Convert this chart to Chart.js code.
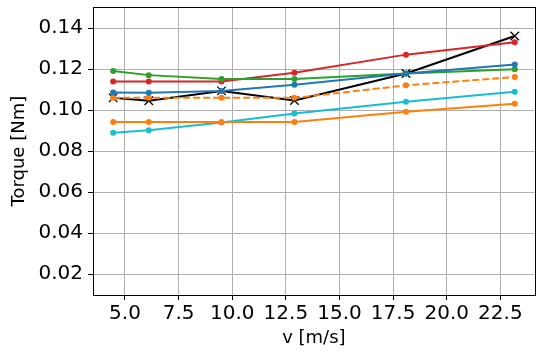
<!DOCTYPE html>
<html>
<head>
<meta charset="utf-8">
<script src="https://cdn.jsdelivr.net/npm/chart.js@4/dist/chart.umd.min.js"></script>
<style>
html,body{margin:0;padding:0;background:#fff;}
#wrap{width:542px;height:354px;}
</style>
</head>
<body>
<div id="wrap"><canvas id="c" width="542" height="354"></canvas></div>
<script>
const speeds = [4.45, 6.11, 9.5, 12.9, 18.1, 23.17];
const blueSeries   = [0.1086, 0.1085, 0.1094, 0.1124, 0.1179, 0.1223];
const orangeSeries = [0.0942, 0.0942, 0.0942, 0.0942, 0.0992, 0.1031];
const orangeDashed = [0.1060, 0.1060, 0.1060, 0.1060, 0.1121, 0.1162];
const greenSeries  = [0.1191, 0.1171, 0.1152, 0.1152, 0.1179, 0.1200];
const redSeries    = [0.1140, 0.1140, 0.1140, 0.1183, 0.1271, 0.1331];
const cyanSeries   = [0.0890, 0.0902, 0.0940, 0.0984, 0.1041, 0.1090];
const blackSeries  = [0.1060, 0.1046, 0.1094, 0.1047, 0.1179, 0.1362];
const xTicks = [5.0, 7.5, 10.0, 12.5, 15.0, 17.5, 20.0, 22.5];
const yTicks = [0.02, 0.04, 0.06, 0.08, 0.10, 0.12, 0.14];
const xLabel = 'v [m/s]';
const yLabel = 'Torque [Nm]';

function pts(ys){ return speeds.map((x,i)=>({x:x, y:ys[i]})); }
function ds(ys, color, extra){
  return Object.assign({
    data: pts(ys), borderColor: color, backgroundColor: color,
    showLine: true, borderWidth: 2, pointRadius: 3, pointHoverRadius: 3,
    pointBorderWidth: 0, pointStyle: 'circle', tension: 0
  }, extra||{});
}

const frame = {
  id: 'frame',
  afterDraw(chart){
    const a = chart.chartArea, ctx = chart.ctx;
    ctx.save();
    ctx.strokeStyle = '#000'; ctx.lineWidth = 1;
    ctx.strokeRect(Math.round(a.left)+0.5, Math.round(a.top)+0.5, Math.round(a.right-a.left), Math.round(a.bottom-a.top));
    ctx.restore();
  }
};

const tickFont = {family: 'DejaVu Sans', size: 20};
const titleFont = {family: 'DejaVu Sans', size: 18};

new Chart(document.getElementById('c'), {
  type: 'scatter',
  data: {
    datasets: [
      ds(blueSeries, '#1f77b4'),
      ds(orangeSeries, '#ff7f0e'),
      ds(orangeDashed, '#ff7f0e', {borderDash: [7,3]}),
      ds(greenSeries, '#2ca02c'),
      ds(redSeries, '#d62728'),
      ds(cyanSeries, '#17becf'),
      ds(blackSeries, '#000000', {pointStyle: 'crossRot', pointRadius: 6, pointBorderWidth: 1.3, borderWidth: 2})
    ]
  },
  options: {
    responsive: false, animation: false, devicePixelRatio: 1,
    layout: {padding: {top: 5, right: 4, left: 0, bottom: 0}},
    plugins: {legend: {display: false}, tooltip: {enabled: false}},
    scales: {
      x: {
        type: 'linear', min: 3.51, max: 24.1,
        afterBuildTicks: s => { s.ticks = xTicks.map(v=>({value:v})); },
        afterFit: s => { s.height = 59; s.paddingLeft = 0; s.paddingRight = 0; },
        grid: {color: '#b0b0b0', lineWidth: 1, tickLength: 5, tickColor: '#000', drawTicks: true},
        border: {color: '#000', width: 1},
        ticks: {color: '#000', font: tickFont, padding: 2, maxRotation: 0, autoSkip: false,
                callback: v => Number(v).toFixed(1)},
        title: {display: true, text: xLabel, color: '#000', font: titleFont, padding: {top: 0, bottom: 5}}
      },
      y: {
        type: 'linear', min: 0.0098, max: 0.1502,
        afterBuildTicks: s => { s.ticks = yTicks.map(v=>({value:v})); },
        afterFit: s => { s.width = 93; s.paddingTop = 0; s.paddingBottom = 0; },
        grid: {color: '#b0b0b0', lineWidth: 1, tickLength: 5, tickColor: '#000'},
        border: {color: '#000', width: 1},
        ticks: {color: '#000', font: tickFont, padding: 5, autoSkip: false,
                callback: v => Number(v).toFixed(2)},
        title: {display: true, text: yLabel, color: '#000', font: titleFont, padding: {top: 9, bottom: 0}}
      }
    }
  },
  plugins: [frame]
});
</script>
</body>
</html>
